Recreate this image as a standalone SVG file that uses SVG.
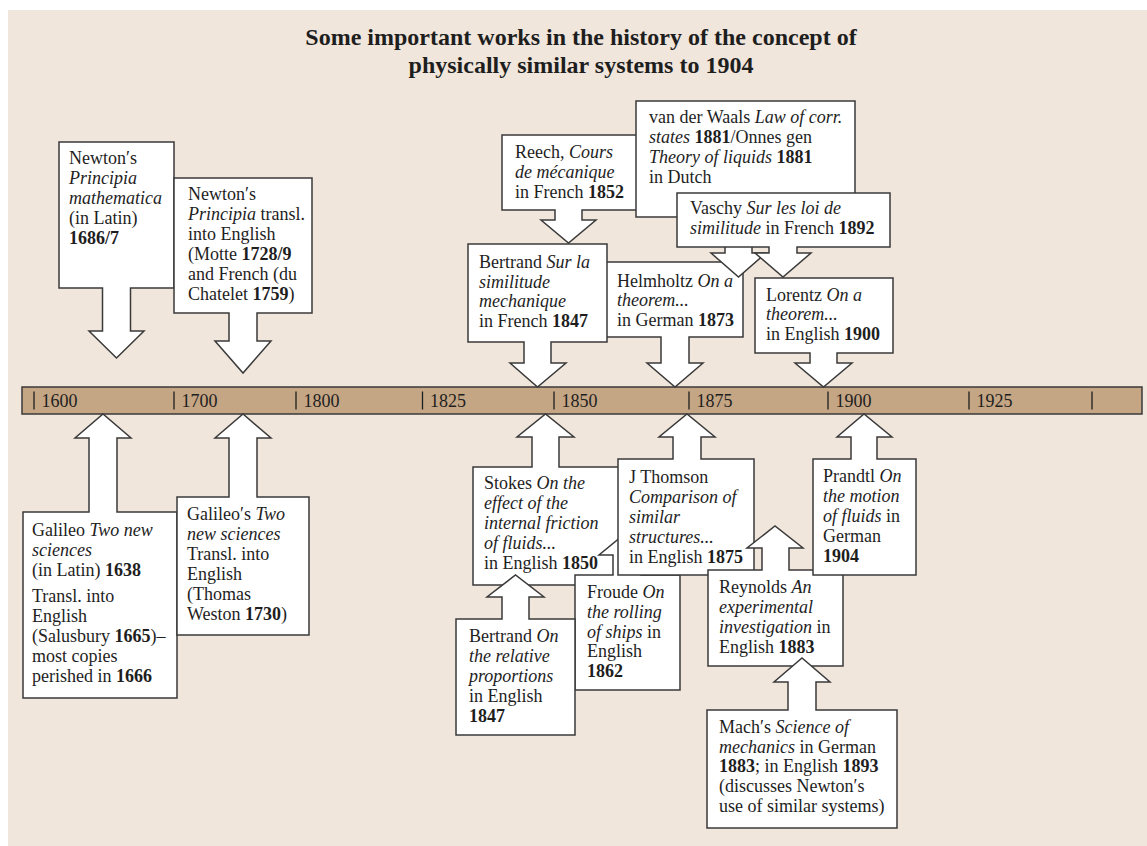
<svg xmlns="http://www.w3.org/2000/svg" width="1147" height="846" viewBox="0 0 1147 846">
  <style>
    .bg { fill: #f1e6dc; }
    .call { fill: #ffffff; stroke: #3a3a3a; stroke-width: 1.5; stroke-linejoin: miter; }
    .bar { fill: #c4a584; stroke: #3a3a3a; stroke-width: 1.5; }
    .tickmark { stroke: #1e1e1e; stroke-width: 1.3; }
    text { font-family: "Liberation Serif", "Times New Roman", "DejaVu Serif", serif; font-size: 18px; fill: #1e1e1e; }
    .title { font-size: 24px; font-weight: bold; text-anchor: middle; }
    .i { font-style: italic; }
    .b { font-weight: bold; }
  </style>

  <rect class="bg" x="8" y="10" width="1139" height="836"/>

  <!-- heading -->
  <g id="title">
    <text class="title" x="581" y="44.5">Some important works in the history of the concept of</text>
    <text class="title" x="581" y="72.5">physically similar systems to 1904</text>
  </g>

  <!-- time axis -->
  <g id="timeline">
    <rect class="bar" x="22" y="387" width="1120" height="27"/>
    <g class="tickmark">
      <line x1="34" y1="391.5" x2="34" y2="409.5"/>
      <line x1="174" y1="391.5" x2="174" y2="409.5"/>
      <line x1="296" y1="391.5" x2="296" y2="409.5"/>
      <line x1="422.5" y1="391.5" x2="422.5" y2="409.5"/>
      <line x1="554" y1="391.5" x2="554" y2="409.5"/>
      <line x1="689" y1="391.5" x2="689" y2="409.5"/>
      <line x1="828" y1="391.5" x2="828" y2="409.5"/>
      <line x1="969" y1="391.5" x2="969" y2="409.5"/>
      <line x1="1092" y1="391.5" x2="1092" y2="409.5"/>
    </g>
    <text x="41.5" y="407">1600</text>
    <text x="181.5" y="407">1700</text>
    <text x="303.5" y="407">1800</text>
    <text x="430" y="407">1825</text>
    <text x="561.5" y="407">1850</text>
    <text x="696.5" y="407">1875</text>
    <text x="835.5" y="407">1900</text>
    <text x="976.5" y="407">1925</text>
  </g>

  <!-- callouts above the axis (arrow pointing down) -->
  <g id="newton-principia">
    <polygon class="call" points="59,142 174,142 174,288 130.5,288 130.5,331 144,331 116.5,358 89,331 102.5,331 102.5,288 59,288"/>
    <text x="69" y="164">Newton′s</text>
    <text x="69" y="184" class="i">Principia</text>
    <text x="69" y="204" class="i">mathematica</text>
    <text x="69" y="224">(in Latin)</text>
    <text x="69" y="244" class="b">1686/7</text>
  </g>

  <g id="newton-translation">
    <polygon class="call" points="174,178 312,178 312,313 257,313 257,341 271,341 243,373 215,341 229,341 229,313 174,313"/>
    <text x="188" y="200">Newton′s</text>
    <text x="188" y="220"><tspan class="i">Principia</tspan> transl.</text>
    <text x="188" y="240">into English</text>
    <text x="188" y="260">(Motte <tspan class="b">1728/9</tspan></text>
    <text x="188" y="280">and French (du</text>
    <text x="188" y="300">Chatelet <tspan class="b">1759</tspan>)</text>
  </g>

  <g id="reech">
    <polygon class="call" points="502,135 637,135 637,210 582,210 582,220 596,220 568.5,243 541,220 555,220 555,210 502,210"/>
    <text x="515" y="158">Reech, <tspan class="i">Cours</tspan></text>
    <text x="515" y="178" class="i">de mécanique</text>
    <text x="515" y="198">in French <tspan class="b">1852</tspan></text>
  </g>

  <g id="helmholtz">
    <polygon class="call" points="600,262 743,262 743,337 689,337 689,363 703,363 675,387 647,363 661,363 661,337 600,337"/>
    <text x="617" y="287">Helmholtz <tspan class="i">On a</tspan></text>
    <text x="617" y="306" class="i">theorem...</text>
    <text x="617" y="326">in German <tspan class="b">1873</tspan></text>
  </g>

  <g id="bertrand-similitude">
    <polygon class="call" points="468,244 607,244 607,342 551,342 551,363 566,363 537.5,387 510,363 524,363 524,342 468,342"/>
    <text x="479" y="268">Bertrand <tspan class="i">Sur la</tspan></text>
    <text x="479" y="288" class="i">similitude</text>
    <text x="479" y="307" class="i">mechanique</text>
    <text x="479" y="327">in French <tspan class="b">1847</tspan></text>
  </g>

  <g id="van-der-waals">
    <polygon class="call" points="636,101 855,101 855,217 752,217 752,253 766,253 738.5,277 711,253 725,253 725,217 636,217"/>
    <text x="649" y="123">van der Waals <tspan class="i">Law of corr.</tspan></text>
    <text x="649" y="143"><tspan class="i">states</tspan> <tspan class="b">1881</tspan>/Onnes gen</text>
    <text x="649" y="163"><tspan class="i">Theory of liquids</tspan> <tspan class="b">1881</tspan></text>
    <text x="649" y="183">in Dutch</text>
  </g>

  <g id="vaschy">
    <polygon class="call" points="677,193 890,193 890,247 797,247 797,253 811,253 783,277 755,253 769,253 769,247 677,247"/>
    <text x="690" y="214">Vaschy <tspan class="i">Sur les loi de</tspan></text>
    <text x="690" y="234"><tspan class="i">similitude</tspan> in French <tspan class="b">1892</tspan></text>
  </g>

  <g id="lorentz">
    <polygon class="call" points="755,278 893,278 893,353 837,353 837,363 852,363 823.5,387 795,363 810,363 810,353 755,353"/>
    <text x="766" y="301">Lorentz <tspan class="i">On a</tspan></text>
    <text x="766" y="320" class="i">theorem...</text>
    <text x="766" y="340">in English <tspan class="b">1900</tspan></text>
  </g>

  <!-- callouts below the axis (arrow pointing up) -->
  <g id="galileo">
    <polygon class="call" points="23,512 89,512 89,438 75,438 103,414 131,438 117,438 117,512 177,512 177,698 23,698"/>
    <text x="32" y="536">Galileo <tspan class="i">Two new</tspan></text>
    <text x="32" y="556" class="i">sciences</text>
    <text x="32" y="576">(in Latin) <tspan class="b">1638</tspan></text>
    <text x="32" y="602">Transl. into</text>
    <text x="32" y="622">English</text>
    <text x="32" y="642">(Salusbury <tspan class="b">1665</tspan>)–</text>
    <text x="32" y="662">most copies</text>
    <text x="32" y="682">perished in <tspan class="b">1666</tspan></text>
  </g>

  <g id="galileo-translation">
    <polygon class="call" points="177,497 229,497 229,438 215,438 243,414 271,438 257,438 257,497 309,497 309,635 177,635"/>
    <text x="187" y="520">Galileo′s <tspan class="i">Two</tspan></text>
    <text x="187" y="540" class="i">new sciences</text>
    <text x="187" y="560">Transl. into</text>
    <text x="187" y="580">English</text>
    <text x="187" y="600">(Thomas</text>
    <text x="187" y="620">Weston <tspan class="b">1730</tspan>)</text>
  </g>

  <g id="stokes">
    <polygon class="call" points="473,467 532,467 532,437 517,437 545.5,414 574,437 559,437 559,467 626,467 626,585 473,585"/>
    <text x="484" y="489">Stokes <tspan class="i">On the</tspan></text>
    <text x="484" y="509" class="i">effect of the</text>
    <text x="484" y="529" class="i">internal friction</text>
    <text x="484" y="549" class="i">of fluids...</text>
    <text x="484" y="569">in English <tspan class="b">1850</tspan></text>
  </g>

  <g id="froude">
    <polygon class="call" points="575,575 613,575 613,555 599,555 627,532 655,555 641,555 641,575 680,575 680,690 575,690"/>
    <text x="587" y="598">Froude <tspan class="i">On</tspan></text>
    <text x="587" y="618" class="i">the rolling</text>
    <text x="587" y="638"><tspan class="i">of ships</tspan> in</text>
    <text x="587" y="657">English</text>
    <text x="587" y="677" class="b">1862</text>
  </g>

  <g id="j-thomson">
    <polygon class="call" points="618,459 673,459 673,437 659,437 687,414 715,437 701,437 701,459 754,459 754,575 618,575"/>
    <text x="629" y="483">J Thomson</text>
    <text x="629" y="503" class="i">Comparison of</text>
    <text x="629" y="523" class="i">similar</text>
    <text x="629" y="543" class="i">structures...</text>
    <text x="629" y="563">in English <tspan class="b">1875</tspan></text>
  </g>

  <g id="bertrand-proportions">
    <polygon class="call" points="456,619 502,619 502,597 487,597 515.5,575 544,597 529,597 529,619 575,619 575,735 456,735"/>
    <text x="469" y="642">Bertrand <tspan class="i">On</tspan></text>
    <text x="469" y="662" class="i">the relative</text>
    <text x="469" y="682" class="i">proportions</text>
    <text x="469" y="702">in English</text>
    <text x="469" y="722" class="b">1847</text>
  </g>

  <g id="reynolds">
    <polygon class="call" points="708,570 762,570 762,548 747,548 775,526 803,548 789,548 789,570 843,570 843,666 708,666"/>
    <text x="719" y="593">Reynolds <tspan class="i">An</tspan></text>
    <text x="719" y="613" class="i">experimental</text>
    <text x="719" y="633"><tspan class="i">investigation</tspan> in</text>
    <text x="719" y="653">English <tspan class="b">1883</tspan></text>
  </g>

  <g id="prandtl">
    <polygon class="call" points="813,459 851,459 851,437 837,437 864,414 892,437 877,437 877,459 916,459 916,575 813,575"/>
    <text x="823" y="482">Prandtl <tspan class="i">On</tspan></text>
    <text x="823" y="502" class="i">the motion</text>
    <text x="823" y="522"><tspan class="i">of fluids</tspan> in</text>
    <text x="823" y="542">German</text>
    <text x="823" y="562" class="b">1904</text>
  </g>

  <g id="mach">
    <polygon class="call" points="707,710 788,710 788,682 774,682 802,658 830,682 816,682 816,710 897,710 897,828 707,828"/>
    <text x="719" y="733">Mach′s <tspan class="i">Science of</tspan></text>
    <text x="719" y="753"><tspan class="i">mechanics</tspan> in German</text>
    <text x="719" y="772"><tspan class="b">1883</tspan>; in English <tspan class="b">1893</tspan></text>
    <text x="719" y="792">(discusses Newton′s</text>
    <text x="719" y="812">use of similar systems)</text>
  </g>
</svg>
